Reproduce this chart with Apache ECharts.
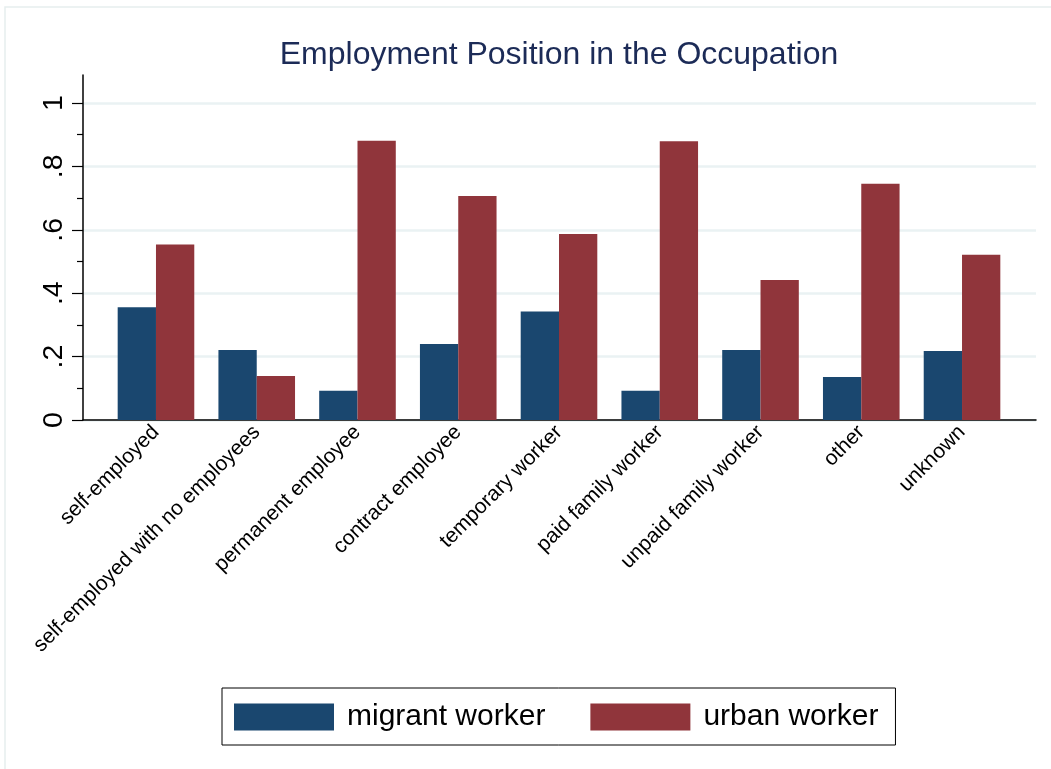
<!DOCTYPE html>
<html>
<head>
<meta charset="utf-8">
<script src="https://cdn.jsdelivr.net/npm/echarts@6/dist/echarts.min.js"></script>
<style>
html,body{margin:0;padding:0;background:#fff;}
#main{width:1051px;height:769px;}
</style>
</head>
<body>
<div id="main"></div>
<script>
const categories = ["self-employed","self-employed with no employees","permanent employee","contract employee","temporary worker","paid family worker","unpaid family worker","other","unknown"];
const migrantWorker = [0.356, 0.221, 0.092, 0.240, 0.342, 0.092, 0.221, 0.136, 0.218];
const urbanWorker = [0.554, 0.139, 0.881, 0.707, 0.587, 0.879, 0.442, 0.745, 0.521];
const yTicks = [0, 0.2, 0.4, 0.6, 0.8, 1];
const seriesNames = ["migrant worker", "urban worker"];

const FONT = '"Liberation Sans", Arial, Helvetica, sans-serif';
const chart = echarts.init(document.getElementById('main'), null, {renderer: 'canvas'});

const yLabel = v => {
  if (v === 0) return '0';
  if (v === 1) return '1';
  return String(v).replace(/^0/, '');
};

chart.setOption({
  backgroundColor: '#ffffff',
  animation: false,
  graphic: [{
    type: 'rect', shape: {x: 5, y: 7, width: 1060, height: 800},
    style: {fill: 'none', stroke: '#e6eeee', lineWidth: 1.5}, silent: true, z: -10
  }],
  title: {
    text: 'Employment Position in the Occupation',
    left: 554, top: 34, textAlign: 'center',
    textStyle: {fontFamily: FONT, fontSize: 32, fontWeight: 'normal', color: '#1c2b57'}
  },
  legend: {
    data: seriesNames,
    left: 222, top: 688,
    orient: 'horizontal',
    itemWidth: 100, itemHeight: 27, itemGap: 45,
    padding: [14, 17, 13, 12],
    borderColor: '#000', borderWidth: 1,
    icon: 'rect',
    textStyle: {fontFamily: FONT, fontSize: 30, color: '#000', padding: [0, 0, 0, 8]}
  },
  grid: [
    {left: 83, right: 15, top: 75, bottom: 349},
    {left: 83, right: 15, top: 103, bottom: 349},
    {left: 105.6, right: 38.6, top: 103, bottom: 349}
  ],
  xAxis: [
    {gridIndex: 0, type: 'value', min: 0, max: 1, axisLine: {show: true, onZero: false, lineStyle: {color: '#000', width: 1.5}},
      axisTick: {show: false}, axisLabel: {show: false}, splitLine: {show: false}},
    {gridIndex: 1, type: 'value', min: 0, max: 1, show: false},
    {gridIndex: 2, type: 'category', data: categories,
      axisLine: {show: false}, axisTick: {show: false},
      axisLabel: {rotate: 45, interval: 0, margin: 9, fontFamily: FONT, fontSize: 21, color: '#000'}}
  ],
  yAxis: [
    {gridIndex: 0, type: 'value', min: 0, max: 1, axisLine: {show: true, onZero: false, lineStyle: {color: '#000', width: 1.5}},
      axisTick: {show: false}, axisLabel: {show: false}, splitLine: {show: false}},
    {gridIndex: 1, type: 'value', min: yTicks[0], max: yTicks[yTicks.length - 1], interval: 0.2,
      axisLine: {show: false},
      axisTick: {show: true, length: 11, lineStyle: {color: '#000', width: 1.2}},
      minorTick: {show: true, splitNumber: 2, length: 6, lineStyle: {color: '#000', width: 1.2}},
      splitLine: {show: true, lineStyle: {color: '#eaf2f3', width: 2.5}},
      axisLabel: {rotate: 90, margin: 14, fontFamily: FONT, fontSize: 28.5, color: '#000', formatter: yLabel}},
    {gridIndex: 2, type: 'value', min: 0, max: 1, show: false}
  ],
  series: [
    {name: seriesNames[0], type: 'bar', xAxisIndex: 2, yAxisIndex: 2, data: migrantWorker,
      barWidth: 38.3, barGap: '0%', itemStyle: {color: '#1a476f'}},
    {name: seriesNames[1], type: 'bar', xAxisIndex: 2, yAxisIndex: 2, data: urbanWorker,
      barWidth: 38.3, barGap: '0%', itemStyle: {color: '#90353b'}}
  ]
});
</script>
</body>
</html>
